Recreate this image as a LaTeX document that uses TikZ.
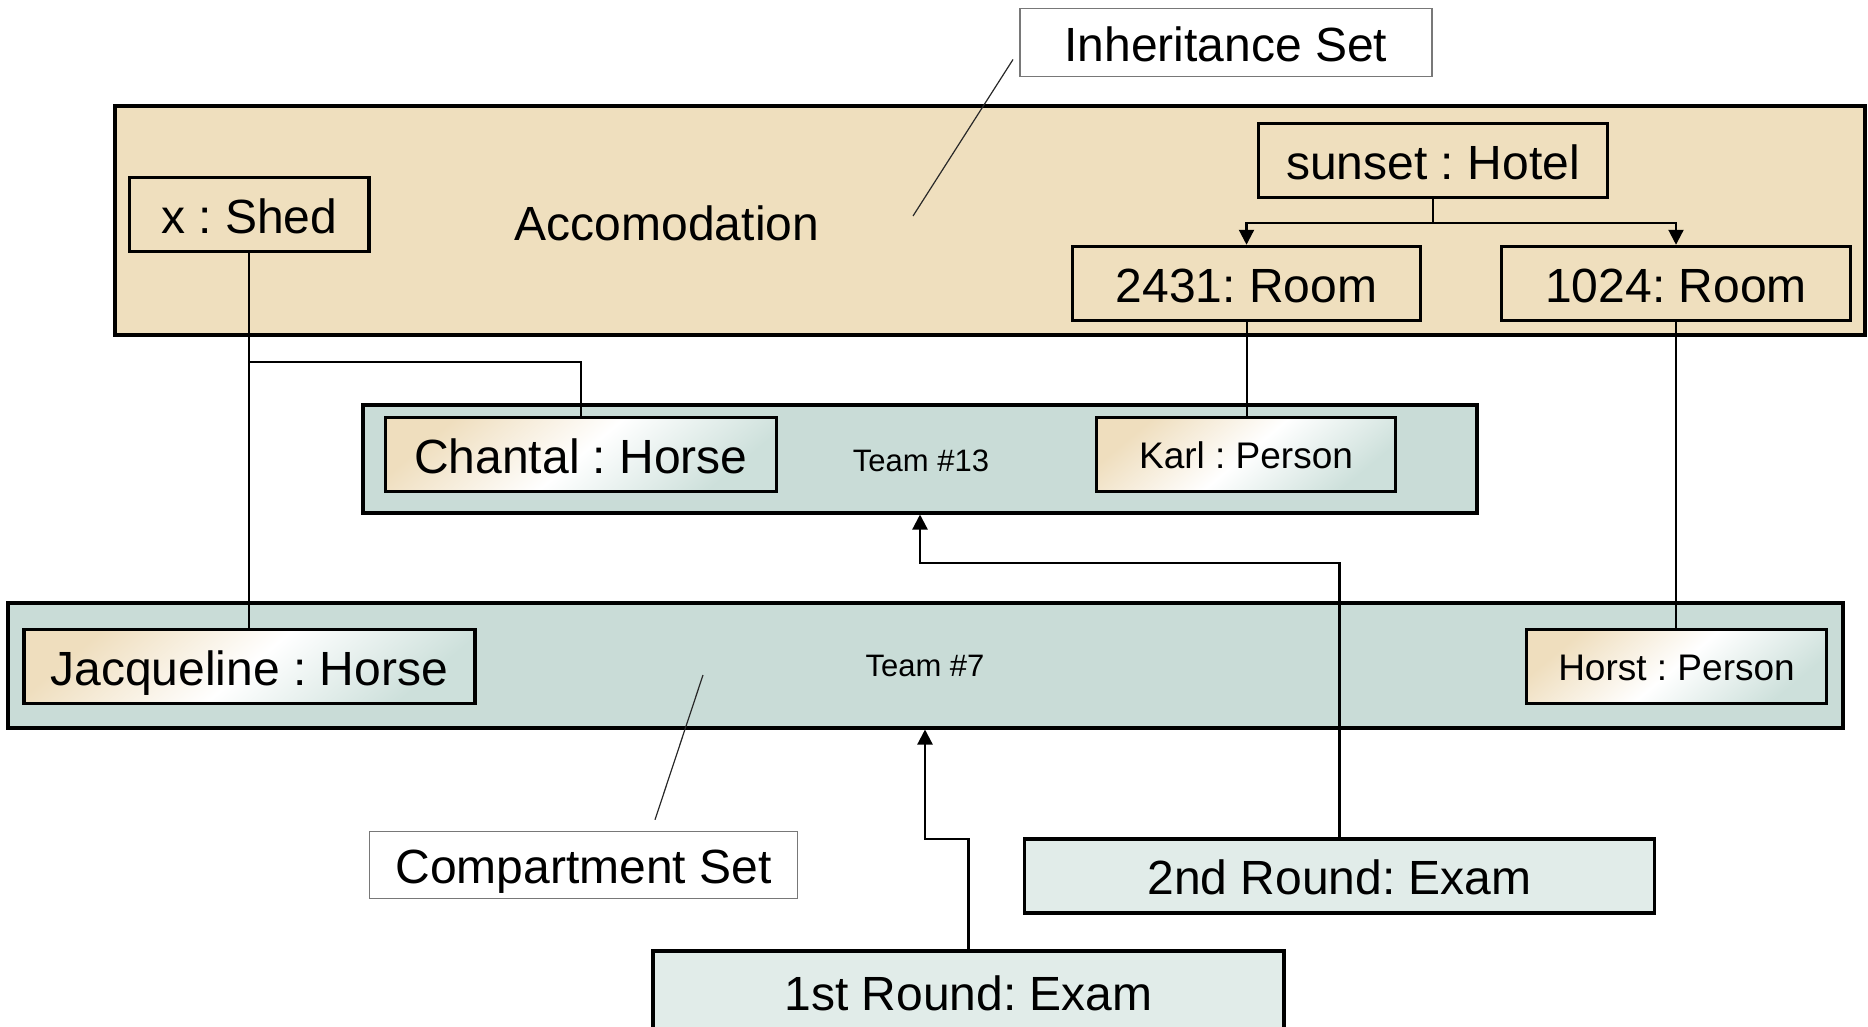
\documentclass[tikz,border=0pt]{standalone}
\usepackage{fontspec}
\setmainfont{Liberation Sans}
\usetikzlibrary{arrows.meta}
\frenchspacing

\definecolor{accbeige}{RGB}{239,223,190}
\definecolor{teamgreen}{RGB}{201,220,215}
\definecolor{examfill}{RGB}{225,236,233}
\definecolor{rolebeige}{RGB}{239,222,190}
\definecolor{roleteal}{RGB}{205,224,219}
\definecolor{notegray}{RGB}{120,120,120}
\definecolor{noteline}{RGB}{40,40,40}

\tikzset{
  box/.style={draw=black, line width=3.5pt, rectangle, inner sep=0pt, align=center},
  bigtext/.style={font=\fontsize{48}{56}\selectfont, text height=37.6pt, text depth=0pt},
  midtext/.style={font=\fontsize{37}{44}\selectfont, text height=27.5pt, text depth=0pt},
  smalltext/.style={font=\fontsize{31}{37}\selectfont, text height=22.2pt, text depth=0pt},
  container/.style={box, line width=4pt},
  plainobj/.style={box, fill=accbeige, bigtext},
  exam/.style={box, fill=examfill, bigtext},
  role/.style={box, top color=rolebeige, bottom color=roleteal, middle color=white, shading angle=40},
  note/.style={draw=notegray, line width=1.5pt, fill=white, rectangle, inner sep=0pt, bigtext},
  noteln/.style={draw=noteline, line width=1.2pt},
  link/.style={line width=2pt},
  flow/.style={line width=2.2pt, -{Triangle[length=15pt,width=15pt]}},
}

\begin{document}
\begin{tikzpicture}[x=1pt,y=-1pt]
\useasboundingbox (0,0) rectangle (1868,1027);
\clip (0,0) rectangle (1868,1027);

% compartments and inheritance container
\node[container, fill=accbeige, minimum width=1750pt, minimum height=228pt] (acc) at (989.5,220.5) {};
\node[container, fill=teamgreen, minimum width=1114pt, minimum height=108pt] (team13) at (920,458.5) {};
\node[container, fill=teamgreen, minimum width=1835pt, minimum height=125pt] (team7) at (925,665) {};

\node[bigtext] (acclabel) at (667,222) {Accomodation};
\node[smalltext] (team13label) at (921,460) {Team \#13};
\node[smalltext] (team7label) at (925,665) {Team \#7};

% objects inside Accomodation
\node[plainobj, minimum width=239.5pt, minimum height=74pt] (shed) at (249.25,214.5) {x : Shed};
\node[plainobj, minimum width=349pt, minimum height=74pt] (hotel) at (1433,160.5) {sunset : Hotel};
\node[plainobj, minimum width=348pt, minimum height=74pt] (room1) at (1246.5,283.5) {2431: Room};
\node[plainobj, minimum width=349pt, minimum height=74pt] (room2) at (1676,283.5) {1024: Room};

% connectors
\draw[flow] (hotel.south) -- ++(0,24) -| (room1.north);
\draw[flow] (hotel.south) -- ++(0,24) -| (room2.north);
\draw[link] (shed.south) -- (249.25,628);
\draw[link] (shed.south |- 0,362) -| (581,416);
\draw[link] (room1.south) -- (1246.5,416);
\draw[link] (room2.south) -- (1676,628);

% exams
\node[exam, minimum width=630pt, minimum height=74pt] (round2) at (1339.5,876) {2nd Round: Exam};
\node[exam, minimum width=631pt, minimum height=82pt] (round1) at (968.5,992) {1st Round: Exam};

\draw[flow] (round2.north) -- (round2.north |- 0,563) -| (team13.south);
\draw[flow] (round1.north) -- (round1.north |- 0,839) -| (team7.south);

% role players
\node[role, bigtext, minimum width=391pt, minimum height=74pt] (chantal) at (581,454.5) {Chantal : Horse};
\node[role, midtext, minimum width=299pt, minimum height=74pt] (karl) at (1246,454.5) {Karl : Person};
\node[role, bigtext, minimum width=451pt, minimum height=74pt] (jacq) at (249.25,666.5) {Jacqueline : Horse};
\node[role, midtext, minimum width=300pt, minimum height=74pt] (horst) at (1676.5,666.5) {Horst : Person};

% annotations
\node[note, minimum width=412pt, minimum height=68pt] (inh) at (1225.75,42.5) {Inheritance Set};
\node[note, minimum width=428pt, minimum height=67pt] (cmp) at (583.5,865) {Compartment Set};
\coordinate (inhtip) at (913,216);
\coordinate (cmptip) at (703,675);
\draw[noteln] ([xshift=-6pt,yshift=-17pt]inh.west) -- (inhtip);
\draw[noteln] ([xshift=71.5pt,yshift=11pt]cmp.north) -- (cmptip);
\end{tikzpicture}
\end{document}
